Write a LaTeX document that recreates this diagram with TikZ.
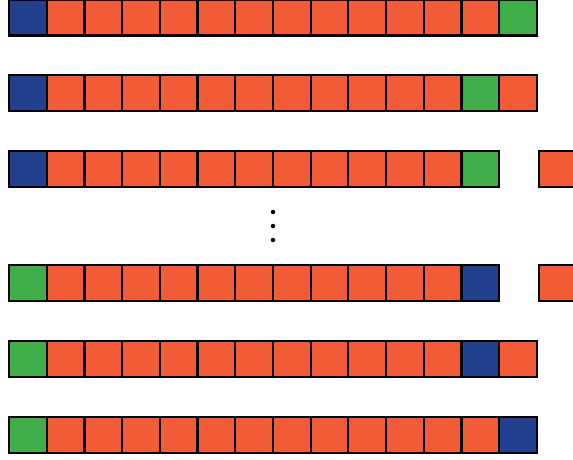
\documentclass[tikz,border=0pt]{standalone}
\definecolor{cb}{RGB}{35,64,143}
\definecolor{co}{RGB}{241,91,54}
\definecolor{cg}{RGB}{64,174,73}
\begin{document}
\begin{tikzpicture}[x=1pt,y=-1pt,
  cell/.style={draw=black, line width=2.2pt, minimum width=37.7pt, minimum height=36pt, inner sep=0pt, outer sep=0pt},
  dotmark/.style={circle, fill=black, inner sep=0pt, minimum size=4.5pt}]
\useasboundingbox (0,0) rectangle (573,459);
\clip (0,0) rectangle (573,459);
% row 1
\foreach \c [count=\i from 0] in {cb,co,co,co,co,co,co,co,co,co,co,co,co,cg}
  \node[cell, fill=\c] (ra\i) at (27.85+\i*37.7, 17.5) {};
% row 2
\foreach \c [count=\i from 0] in {cb,co,co,co,co,co,co,co,co,co,co,co,cg,co}
  \node[cell, fill=\c] (rb\i) at (27.85+\i*37.7, 93) {};
% row 3
\foreach \c [count=\i from 0] in {cb,co,co,co,co,co,co,co,co,co,co,co,cg}
  \node[cell, fill=\c] (rc\i) at (27.85+\i*37.7, 169) {};
\node[cell, fill=co] (rc14) at (27.85+14*37.7+2, 169) {};
% dots
\node[dotmark] (d1) at (273,212) {};
\node[dotmark] (d2) at (273,226) {};
\node[dotmark] (d3) at (273,240) {};
% row 4
\foreach \c [count=\i from 0] in {cg,co,co,co,co,co,co,co,co,co,co,co,cb}
  \node[cell, fill=\c] (rd\i) at (27.85+\i*37.7, 283) {};
\node[cell, fill=co] (rd14) at (27.85+14*37.7+2, 283) {};
% row 5
\foreach \c [count=\i from 0] in {cg,co,co,co,co,co,co,co,co,co,co,co,cb,co}
  \node[cell, fill=\c] (re\i) at (27.85+\i*37.7, 359) {};
% row 6
\foreach \c [count=\i from 0] in {cg,co,co,co,co,co,co,co,co,co,co,co,co,cb}
  \node[cell, fill=\c] (rf\i) at (27.85+\i*37.7, 435) {};
\end{tikzpicture}
\end{document}
